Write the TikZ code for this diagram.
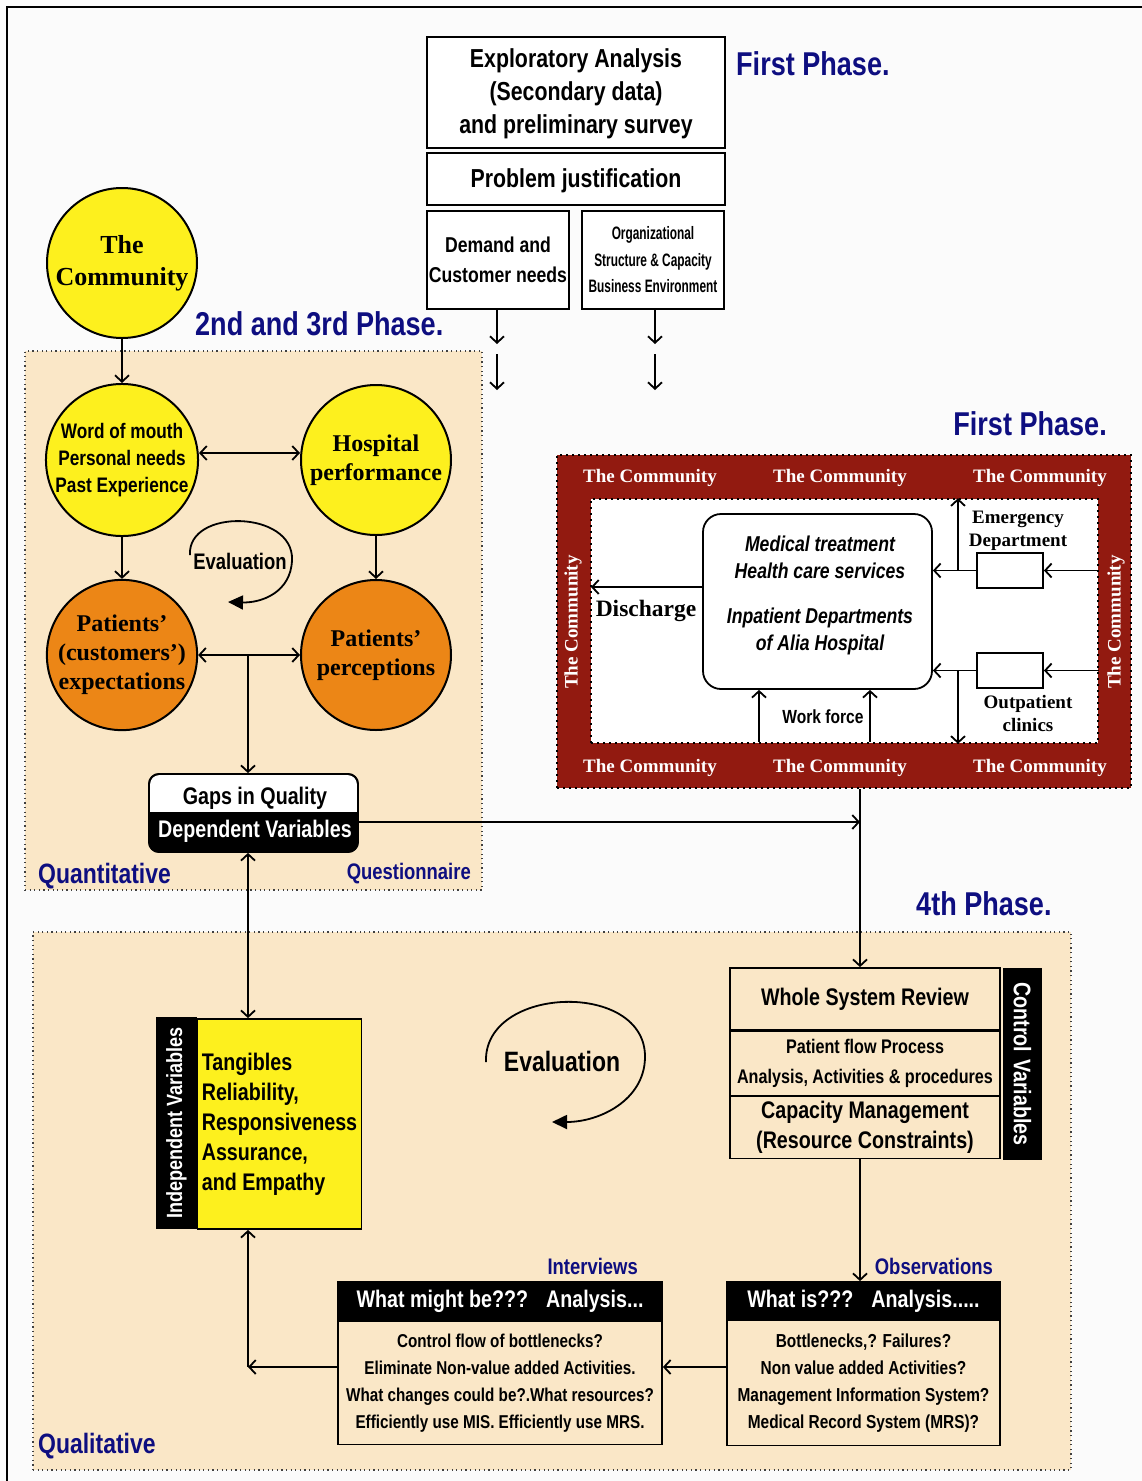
\documentclass[tikz,border=0pt]{standalone}
\usepackage{fontspec}
\setmainfont{Liberation Serif}
\newfontfamily\nsans[FakeStretch=0.82]{Liberation Sans}
\newfontfamily\csans[FakeStretch=0.66]{Liberation Sans}
\usetikzlibrary{arrows.meta}
\newcommand\fsz[2]{\fontsize{#1}{#2}\selectfont}
\definecolor{navy}{RGB}{14,14,128}
\definecolor{wheat}{RGB}{250,231,199}
\definecolor{canary}{RGB}{253,240,30}
\definecolor{amber}{RGB}{236,134,22}
\definecolor{brick}{RGB}{146,26,16}
\definecolor{paper}{RGB}{251,251,251}

\begin{document}
\begin{tikzpicture}[x=1pt,y=-1pt,
  box/.style={draw, line width=1.8pt, inner sep=0pt, align=center},
  wbox/.style={box, fill=white},
  circ/.style={circle, draw, line width=2pt, minimum size=150pt, inner sep=0pt, align=center},
  lbl/.style={inner sep=0pt, align=center},
  phase/.style={lbl, text=navy, font=\nsans\bfseries\fsz{33}{36}},
  bluelbl/.style={lbl, text=navy, font=\nsans\bfseries\fsz{#1}{30}},
  arr/.style={line width=1.8pt, -{Straight Barb[length=6.5pt,width=14pt]}},
  darr/.style={line width=1.8pt, {Straight Barb[length=6.5pt,width=14pt]}-{Straight Barb[length=6.5pt,width=14pt]}},
  evloop/.style={line width=1.8pt, -{Triangle[length=15pt,width=14pt]}},
  region/.style={fill=wheat, draw=black!75, dash pattern=on 1.2pt off 3.4pt, line width=1.2pt, inner sep=0pt},
  dotframe/.style={draw=black, dash pattern=on 1.6pt off 4.4pt, line width=1.6pt, inner sep=0pt},
  comm/.style={lbl, text=white, font=\bfseries\fsz{19}{22}},
]
\useasboundingbox (0,0) rectangle (1142,1481);
\fill[paper] (0,0) rectangle (1142,1481);
\draw[line width=2pt] (7,1481) -- (7,7) -- (1142,7);

% shaded study areas
\node[region, minimum width=457pt, minimum height=539pt] (quant) at (253.5,620.5) {};
\node[region, minimum width=1038pt, minimum height=538pt] (qual) at (552,1201) {};

% first phase: exploratory boxes
\node[wbox, minimum width=298pt, minimum height=111pt] (explo) at (576,92.5) {};
\node[lbl, font=\nsans\bfseries\fsz{26}{33}] (explot) at (576,94) {Exploratory Analysis\\(Secondary data)\\and preliminary survey};
\node[wbox, minimum width=298pt, minimum height=52pt] (prob) at (576,179) {};
\node[lbl, font=\nsans\bfseries\fsz{26}{30}] (probt) at (576,181) {Problem justification};
\node[wbox, minimum width=142pt, minimum height=98pt, font=\nsans\bfseries\fsz{21.5}{30}] (dem) at (498,260) {Demand and\\Customer needs};
\node[wbox, minimum width=142pt, minimum height=98pt, font=\csans\bfseries\fsz{18}{26.5}] (org) at (653,260) {Organizational\\Structure \& Capacity\\Business Environment};

\coordinate (d1) at (497,344); \coordinate (d2) at (497,354); \coordinate (d3) at (497,390);
\coordinate (o1) at (655,344); \coordinate (o2) at (655,354); \coordinate (o3) at (655,390);
\draw[arr] (dem.south -| d1) -- (d1);
\draw[arr] (d2) -- (d3);
\draw[arr] (org.south -| o1) -- (o1);
\draw[arr] (o2) -- (o3);

% phase titles and method labels
\node[phase, anchor=west] (ph1) at (736,64) {First Phase.};
\node[phase, anchor=west] (ph23) at (195,324) {2nd and 3rd Phase.};
\node[phase, anchor=east] (ph1b) at (1107,424) {First Phase.};
\node[phase, anchor=west] (ph4) at (916,904) {4th Phase.};
\node[bluelbl=28, anchor=west] (quantl) at (38,876) {Quantitative};
\node[bluelbl=22.5, anchor=east] (questl) at (471,874) {Questionnaire};
\node[bluelbl=28, anchor=west] (quall) at (38,1446) {Qualitative};
\node[bluelbl=22.5, anchor=east] (intl) at (638,1266) {Interviews};
\node[bluelbl=22.5, anchor=east] (obsl) at (993,1266) {Observations};

% second and third phase: expectations versus perceptions
\node[circ, fill=canary, font=\bfseries\fsz{26}{32}] (commty) at (122,263) {The\\Community};
\node[circ, fill=canary, font=\nsans\bfseries\fsz{21}{27}] (word) at (122,460) {Word of mouth\\Personal needs\\Past Experience};
\node[circ, fill=canary, font=\bfseries\fsz{24}{29}] (hosp) at (376,460) {Hospital\\performance};
\node[circ, fill=amber, font=\bfseries\fsz{24}{29}] (pexp) at (122,655) {Patients’\\(customers’)\\expectations};
\node[circ, fill=amber, font=\bfseries\fsz{24}{29}] (pperc) at (376,655) {Patients’\\perceptions};

\coordinate (wy) at (248,453);
\draw[arr] (commty.south) -- (word.north);
\draw[darr] (word.east |- wy) -- (hosp.west |- wy);
\draw[arr] (word.south) -- (pexp.north);
\draw[arr] (hosp.south) -- (pperc.north);
\draw[darr] (pexp.east) -- (pperc.west);

\node[lbl, font=\nsans\bfseries\fsz{22.5}{24}] (ev1) at (240,561) {Evaluation};
\draw[evloop] (190,555) .. controls (187,508) and (294,510) .. (292,560) .. controls (291,592) and (262,603) .. (228,602);

% gaps in quality
\node[box, fill=white, rounded corners=10pt, minimum width=209pt, minimum height=78pt] (gaps) at (253.5,813) {};
\fill[black, rounded corners=10pt] (149,812) rectangle (358,852);
\fill[black] (149,812) rectangle (358,828);
\draw[line width=1.8pt, rounded corners=10pt] (149,774) rectangle (358,852);
\node[lbl, font=\nsans\bfseries\fsz{24}{26}] (gq) at (255,798) {Gaps in Quality};
\node[lbl, text=white, font=\nsans\bfseries\fsz{24}{26}] (dv) at (255,831) {Dependent Variables};

\coordinate (mid) at (248,655);
\draw[arr] (mid) -- (gaps.north -| mid);

% hospital system within the community
\node[dotframe, fill=brick, minimum width=574pt, minimum height=333pt] (red) at (844,621.5) {};
\node[dotframe, fill=white, minimum width=507pt, minimum height=244pt] (inner) at (844.5,621) {};
\node[comm] (ct1) at (650,478) {The Community};
\node[comm] (ct2) at (840,478) {The Community};
\node[comm] (ct3) at (1040,478) {The Community};
\node[comm] (cb1) at (650,768) {The Community};
\node[comm] (cb2) at (840,768) {The Community};
\node[comm] (cb3) at (1040,768) {The Community};
\node[comm, rotate=90] (cl) at (573,622) {The Community};
\node[comm, rotate=90] (cr) at (1116,622) {The Community};

\node[box, fill=white, rounded corners=18pt, minimum width=229pt, minimum height=175pt] (cb) at (817.5,601.5) {};
\node[lbl, font=\nsans\bfseries\itshape\fsz{21.5}{27}] (cbt) at (820,595.5) {Medical treatment\\Health care services\\[18pt]Inpatient Departments\\of Alia Hospital};
\node[box, fill=white, minimum width=66pt, minimum height=35pt] (er) at (1010,570.5) {};
\node[box, fill=white, minimum width=66pt, minimum height=35pt] (op) at (1010,670.5) {};
\node[lbl, font=\bfseries\fsz{19}{23}] (erl) at (1018,531) {Emergency\\Department};
\node[lbl, font=\bfseries\fsz{19}{23}] (opl) at (1028,713) {Outpatient\\clinics};
\node[lbl, font=\bfseries\fsz{23.5}{26}] (dis) at (646,611) {Discharge};
\node[lbl, font=\nsans\bfseries\fsz{19}{22}] (wf) at (823,717) {Work force};

\coordinate (dch) at (591,587);
\draw[arr] (cb.west |- dch) -- (dch);
\draw[arr] (inner.east |- er) -- (er.east);
\draw[arr] (er.west) -- (cb.east |- er);
\draw[arr] (inner.east |- op) -- (op.east);
\draw[arr] (op.west) -- (cb.east |- op);
\coordinate (erx) at (958,570.5);
\coordinate (opx) at (958,670.5);
\draw[arr] (erx) -- (erx |- inner.north);
\draw[arr] (opx) -- (opx |- inner.south);
\coordinate (w1) at (759,742); \coordinate (w2) at (870,742);
\draw[arr] (w1) -- (w1 |- cb.south);
\draw[arr] (w2) -- (w2 |- cb.south);

% fourth phase: whole system review
\node[box, minimum width=270pt, minimum height=62pt, font=\nsans\bfseries\fsz{24}{28}] (wsr) at (865,999) {Whole System Review};
\node[box, minimum width=270pt, minimum height=65pt, font=\nsans\bfseries\fsz{19.7}{30}] (pf) at (865,1063.5) {Patient flow Process\\Analysis, Activities \& procedures};
\node[box, minimum width=270pt, minimum height=63pt, font=\nsans\bfseries\fsz{24}{30}] (cap) at (865,1127) {Capacity Management\\(Resource Constraints)};
\node[fill=black, rotate=-90, inner sep=0pt, minimum width=192pt, minimum height=39pt, text=white, font=\nsans\bfseries\fsz{24}{26}] (ctrl) at (1022.5,1064) {Control\hspace{7pt}Variables};

\node[fill=black, draw, line width=1.8pt, rotate=90, inner sep=0pt, minimum width=210pt, minimum height=39pt, text=white, font=\nsans\bfseries\fsz{22}{24}] (istrip) at (176.5,1123) {Independent Variables};
\node[box, fill=canary, minimum width=164pt, minimum height=210pt, align=left, font=\nsans\bfseries\fsz{24}{30}] (indep) at (279.5,1124) {Tangibles\\Reliability,\\Responsiveness\\Assurance,\\and Empathy};

\node[lbl, font=\nsans\bfseries\fsz{28}{30}] (ev2) at (562,1061) {Evaluation};
\draw[evloop] (486,1062) .. controls (483,985) and (647,980) .. (645,1058) .. controls (644,1100) and (600,1122) .. (552,1122);

\node[box, fill=black, minimum width=324pt, minimum height=38pt, text=white, font=\nsans\bfseries\fsz{24}{26}] (wmh) at (500,1301) {What might be???\hspace{18pt}Analysis...};
\node[box, minimum width=324pt, minimum height=123pt, font=\nsans\bfseries\fsz{18.6}{27}] (wmb) at (500,1383) {Control flow of bottlenecks?\\Eliminate Non-value added Activities.\\What changes could be?.What resources?\\Efficiently use MIS. Efficiently use MRS.};
\node[box, fill=black, minimum width=273pt, minimum height=38pt, text=white, font=\nsans\bfseries\fsz{24}{26}] (wih) at (863.5,1301) {What is???\hspace{18pt}Analysis.....};
\node[box, minimum width=273pt, minimum height=125pt, font=\nsans\bfseries\fsz{18.8}{27}] (wib) at (863.5,1383) {Bottlenecks,? Failures?\\Non value added Activities?\\Management Information System?\\Medical Record System (MRS)?};

% connectors between phases
\coordinate (jn) at (860,822);
\draw[arr] (gaps.east |- jn) -- (jn);
\draw[arr] (red.south -| jn) -- (wsr.north -| jn);
\draw[arr] (cap.south -| jn) -- (wih.north -| jn);
\coordinate (c1) at (248,1367);
\draw[arr] (wib.west |- c1) -- (wmb.east |- c1);
\draw[arr] (wmb.west |- c1) -- (c1);
\draw[arr] (c1) -- (indep.south -| c1);
\draw[darr] (gaps.south -| c1) -- (indep.north -| c1);
\end{tikzpicture}
\end{document}
